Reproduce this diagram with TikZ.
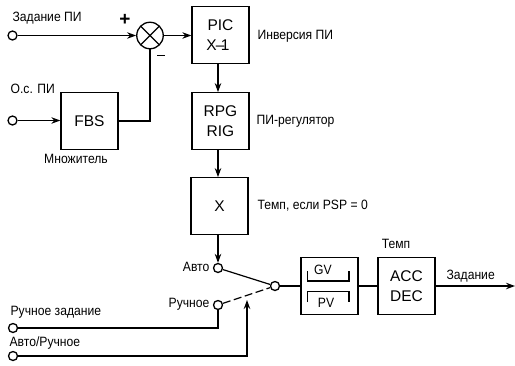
\documentclass[tikz,border=0pt]{standalone}
\usepackage{fontspec}
\setmainfont{Liberation Sans}
\newfontfamily\narrowf[FakeStretch=0.9]{Liberation Sans}
\usetikzlibrary{arrows.meta,calc}
\tikzset{
  every path/.style={line width=1.2pt},
  blockbox/.style={draw,line width=1.3pt,minimum width=57pt,minimum height=56.5pt,inner sep=0pt,align=center,font=\fontsize{15.5}{19.5}\selectfont},
  term/.style={draw,circle,fill=white,minimum size=9pt,inner sep=0pt,line width=1.3pt},
  lab/.style={inner sep=0pt,font=\narrowf\fontsize{13.5}{16}\selectfont},
  arr/.style={-{Stealth[length=9pt,width=6.5pt]}},
  sumc/.style={draw,circle,minimum size=26.5pt,inner sep=0pt,line width=1.3pt}
}
\begin{document}
\begin{tikzpicture}[x=1pt,y=-1pt]
\useasboundingbox (0,0) rectangle (515,365);
% blocks
\node[blockbox] (pic) at (220.5,35) {PIC\\X\kern-1pt--\kern-3.5pt 1\kern5pt};
\node[blockbox] (rpg) at (220.5,121) {RPG\\RIG};
\node[blockbox] (x) at (219.5,206) {X};
\node[blockbox] (fbs) at (89.5,121) {FBS};
\node[blockbox] (gv) at (329.5,286) {};
\node[blockbox] (acc) at (406.5,286) {ACC\\DEC};
\node[sumc] (sum) at (150,35.5) {};
\draw ($(sum)+(-9.2,-9.2)$) -- ($(sum)+(9.2,9.2)$) ($(sum)+(-9.2,9.2)$) -- ($(sum)+(9.2,-9.2)$);
% terminals
\node[term] (t1) at (12.5,35.5) {};
\node[term] (t2) at (12.5,120.5) {};
\node[term] (t3) at (13,328) {};
\node[term] (t4) at (13,356) {};
\node[term] (auto) at (218,268) {};
\node[term] (man) at (218,305) {};
\node[term] (sw) at (275,286) {};
\coordinate (out) at (515,286);
\coordinate (act) at (247,300);
% connectors
\draw[arr] (t1) -- (sum);
\draw[arr] (sum) -- (pic.west |- sum);
\draw[arr] (t2) -- (t2 -| fbs.west);
\draw (fbs.east) -| (sum.south);
\draw[arr] (pic.south -| auto) -- (rpg.north -| auto);
\draw[arr] (rpg.south -| auto) -- (x.north -| auto);
\draw[arr] (x.south -| auto) -- (auto.north);
\draw (auto) -- (sw);
\draw[dash pattern=on 8pt off 3.5pt] (man) -- (sw);
\draw (t3) -| (man);
\draw[arr] (t4) -| (act);
\draw (sw) -- (gv.west);
\draw (gv.east) -- (acc.west);
\draw[arr] (acc.east) -- (out);
% GV / PV contacts
\draw (307.5,271) |- (349,281) -- (349,271);
\draw (307.5,302) |- (349,291.5) -- (349,302);
\node[lab] (gvl) at (323,270) {GV};
\node[lab] (pvl) at (326,302.5) {PV};
% signs
\node[inner sep=0pt,font=\bfseries\fontsize{19}{19}\selectfont] (plus) at (125,20) {+};
\draw[line width=1.4pt] (157,55.5) -- (165,55.5);
% labels
\node[lab,anchor=west] (l1) at (12,18) {Задание ПИ};
\node[lab,anchor=west] (l2) at (10,89) {О.с. ПИ};
\node[lab,anchor=center] (l3) at (76,159) {Множитель};
\node[lab,anchor=west] (l4) at (257,36) {Инверсия ПИ};
\node[lab,anchor=west] (l5) at (256,121) {ПИ-регулятор};
\node[lab,anchor=west] (l6) at (257,206) {Темп, если PSP = 0};
\node[lab,anchor=east] (l7) at (210,267) {Авто};
\node[lab,anchor=east] (l8) at (210,304) {Ручное};
\node[lab,anchor=west] (l9) at (10,312) {Ручное задание};
\node[lab,anchor=west] (l10) at (9,343) {Авто/Ручное};
\node[lab] (l11) at (396,244) {Темп};
\node[lab,anchor=west] (l12) at (446,276) {Задание};
\end{tikzpicture}
\end{document}
